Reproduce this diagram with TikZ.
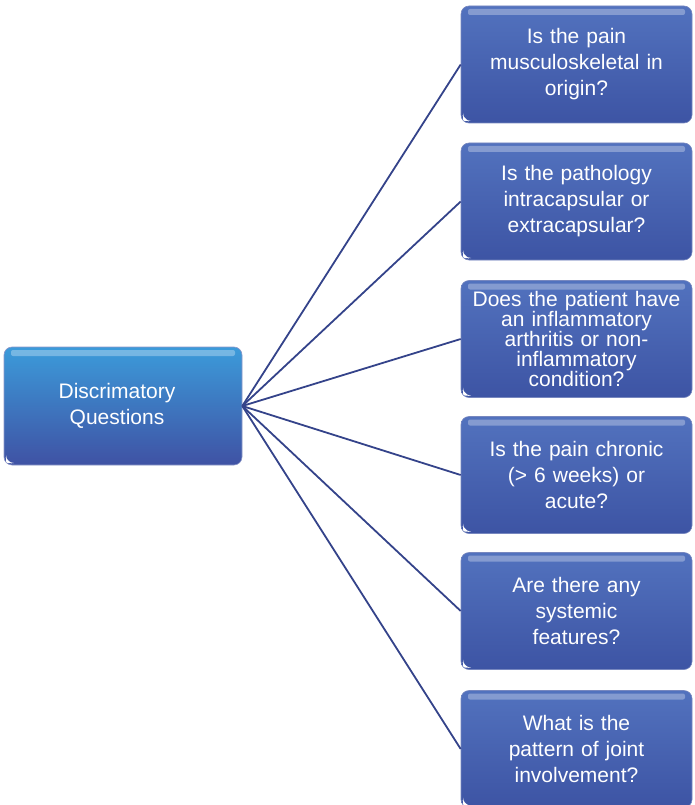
\documentclass[tikz,border=0pt]{standalone}
\usepackage{fontspec}
\setmainfont{Liberation Sans}
\definecolor{hubtop}{HTML}{3C9BDA}
\definecolor{hubbot}{HTML}{3F52A4}
\definecolor{qtop}{HTML}{5272BE}
\definecolor{qbot}{HTML}{3D54A4}
\definecolor{linkcol}{HTML}{34438A}
\tikzset{
  gloss/.style={path picture={
    \fill[white,opacity=0.3,rounded corners=2pt]
      ([xshift=7pt,yshift=-3pt]path picture bounding box.north west) rectangle
      ([xshift=-7pt,yshift=-9pt]path picture bounding box.north east);
    \fill[white]
      ([xshift=2pt,yshift=2pt]path picture bounding box.south west) --
      ([xshift=7pt,yshift=2pt]path picture bounding box.south west) --
      ([xshift=2pt,yshift=7pt]path picture bounding box.south west) -- cycle;}},
  hubbox/.style={rectangle,rounded corners=8pt,draw=hubbot!60,line width=0.6pt,
    top color=hubtop,bottom color=hubbot,minimum width=238pt,minimum height=118pt,
    text=white,align=center,font=\fontsize{21}{26}\selectfont,gloss},
  qbox/.style={rectangle,rounded corners=8pt,draw=qbot!70,line width=0.6pt,
    top color=qtop,bottom color=qbot,minimum width=231pt,minimum height=117pt,
    text width=226pt,inner sep=0pt,text=white,align=center,
    font=\fontsize{21}{26}\selectfont,gloss},
  link/.style={draw=linkcol,line width=1.8pt}
}
\begin{document}
\begin{tikzpicture}[x=1pt,y=-1pt]
  \useasboundingbox (0,0) rectangle (694,805);
  \clip (0,0) rectangle (694,805);

  % Root box
  \node[hubbox] (hub) at (123,406) {Discrimatory\hspace*{12pt}\\Questions\hspace*{12pt}};

  % Question boxes
  \node[qbox] (q1) at (576.5,64.5) {Is the pain\\musculoskeletal in\\origin?};
  \node[qbox] (q2) at (576.5,201.5) {Is the pathology\\intracapsular or\\extracapsular?};
  \node[qbox,font=\fontsize{21}{20}\selectfont] (q3) at (576.5,339)
    {Does the patient have\\an inflammatory\\arthritis or non-\\inflammatory\\condition?};
  \node[qbox] (q4) at (576.5,475) {Is the pain chronic\\(> 6 weeks) or\\acute?};
  \node[qbox] (q5) at (576.5,611) {Are there any\\systemic\\features?};
  \node[qbox] (q6) at (576.5,749) {What is the\\pattern of joint\\involvement?};

  % Connectors
  \foreach \q in {q1,q2,q3,q4,q5,q6}
    \draw[link] (hub.east) -- (\q.west);
\end{tikzpicture}
\end{document}
